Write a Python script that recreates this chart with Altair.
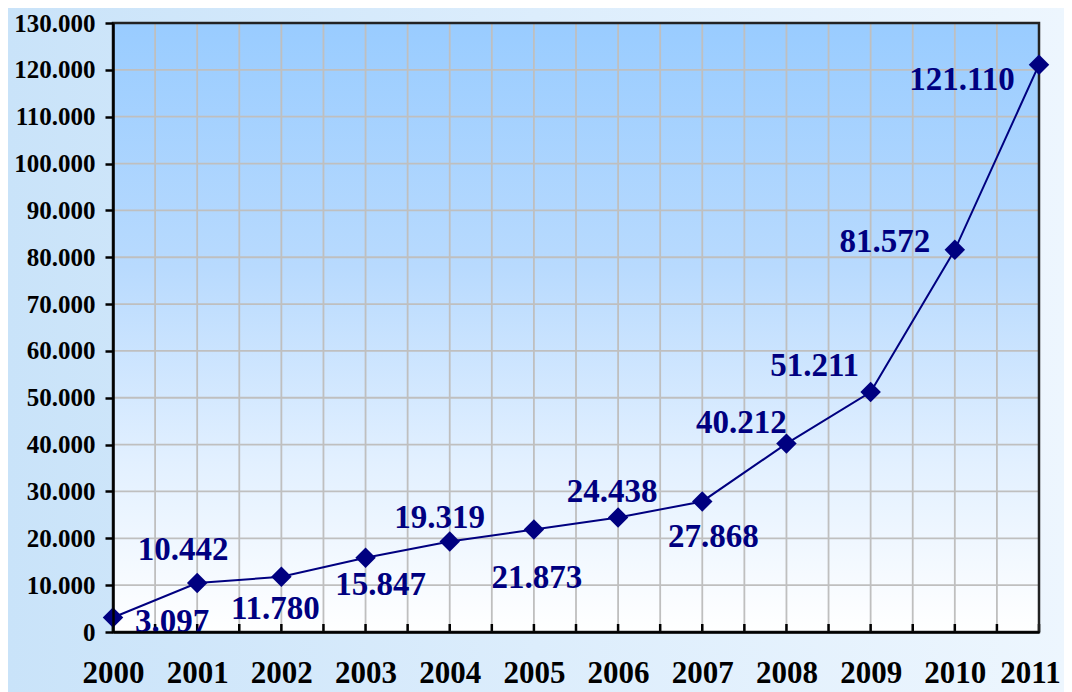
import altair as alt
import pandas as pd

years = [2000, 2001, 2002, 2003, 2004, 2005, 2006, 2007, 2008, 2009, 2010, 2011]
values = [3097, 10442, 11780, 15847, 19319, 21873, 24438, 27868, 40212, 51211, 81572, 121110]
labels = ["3.097", "10.442", "11.780", "15.847", "19.319", "21.873", "24.438",
          "27.868", "40.212", "51.211", "81.572", "121.110"]

x_ticks = [2000 + i * 0.5 for i in range(23)]
y_ticks = [i * 10000 for i in range(14)]

# label offsets (style only), relative to each point
offsets = {
    2000: (59, 5), 2001: (-14, -33), 2002: (-6, 32), 2003: (15, 27),
    2004: (-10, -23), 2005: (3, 48), 2006: (-6, -26), 2007: (11, 36),
    2008: (-45, -21), 2009: (-56, -26), 2010: (-70, -8), 2011: (-77, 15),
}

df = pd.DataFrame({"year": years, "value": values, "label": labels})

W, H = 926, 609
PAD = {"left": 105, "top": 15, "right": 25, "bottom": 60}
NAVY = "#000080"
FONT = "Liberation Serif"

xscale = alt.Scale(domain=[2000, 2011], nice=False, zero=False)
yscale = alt.Scale(domain=[0, 130000], nice=False)

xaxis = alt.Axis(values=x_ticks, title=None, grid=False, ticks=False, domain=True,
                 domainColor="#000000", domainWidth=2.5, labelFont=FONT, labelFontSize=31,
                 labelFontWeight="bold", labelColor="#000000", labelPadding=26,
                 labelFlush=False, labelOverlap=False, zindex=1,
                 labelOffset={"condition": {"test": "datum.value == 2011", "value": -9}, "value": 0},
                 labelExpr="datum.value % 1 == 0 ? datum.value : ''")
yaxis = alt.Axis(values=y_ticks, title=None, grid=False, ticks=True, tickSize=8, tickWidth=2.5,
                 tickColor="#000000", domain=True, domainColor="#000000", domainWidth=2.5,
                 labelFont=FONT, labelFontSize=25, labelFontWeight="bold",
                 labelColor="#000000", labelPadding=10, labelFlush=False,
                 labelOverlap=False, zindex=1,
                 labelExpr="replace(format(datum.value, ',.0f'), /,/g, '.')")

area_df = pd.DataFrame({"x0": [years[0]], "x1": [years[-1]], "y0": [y_ticks[0]], "y1": [y_ticks[-1]]})

# invisible layer that carries the axes
axes = alt.Chart(area_df).mark_rect(opacity=0).encode(
    x=alt.X("x0:Q", scale=xscale, axis=xaxis), x2="x1:Q",
    y=alt.Y("y0:Q", scale=yscale, axis=yaxis), y2="y1:Q")

# page background gradient
page_bg = alt.Chart(pd.DataFrame({"a": [0]})).mark_rect(
    color=alt.Gradient(gradient="linear",
                       stops=[alt.GradientStop(color="#C9E3F9", offset=0),
                              alt.GradientStop(color="#DCEDFC", offset=0.5),
                              alt.GradientStop(color="#EDF6FE", offset=1)],
                       x1=0, x2=1, y1=0, y2=0)
).encode(x=alt.value(-PAD["left"]), x2=alt.value(W + PAD["right"]),
         y=alt.value(-PAD["top"]), y2=alt.value(H + PAD["bottom"]))

# plot area gradient
plot_bg = alt.Chart(area_df).mark_rect(
    color=alt.Gradient(gradient="linear",
                       stops=[alt.GradientStop(color="#99CCFF", offset=0),
                              alt.GradientStop(color="#B8DAFE", offset=0.4),
                              alt.GradientStop(color="#E2F0FF", offset=0.72),
                              alt.GradientStop(color="#FFFFFF", offset=1)],
                       x1=0, x2=0, y1=0, y2=1)
).encode(x=alt.X("x0:Q", scale=xscale), x2="x1:Q",
         y=alt.Y("y0:Q", scale=yscale), y2="y1:Q")

# grid lines
vgrid = alt.Chart(pd.DataFrame({"gx": x_ticks})).mark_rule(color="#BFBFBF", strokeWidth=1.8).encode(
    x=alt.X("gx:Q", scale=xscale))
hgrid = alt.Chart(pd.DataFrame({"gy": y_ticks})).mark_rule(color="#BFBFBF", strokeWidth=1.8).encode(
    y=alt.Y("gy:Q", scale=yscale))

# inward ticks on the bottom axis
xticks_in = alt.Chart(pd.DataFrame({"gx": x_ticks})).mark_rule(color="#000000", strokeWidth=2.5).encode(
    x=alt.X("gx:Q", scale=xscale), y=alt.value(H), y2=alt.value(H - 8))

frame = alt.Chart(area_df).mark_rect(filled=False, stroke="#222222", strokeWidth=2.5).encode(
    x=alt.X("x0:Q", scale=xscale), x2="x1:Q",
    y=alt.Y("y0:Q", scale=yscale), y2="y1:Q")

base = alt.Chart(df)
line = base.mark_line(color=NAVY, strokeWidth=2).encode(x=alt.X("year:Q", scale=xscale),
                                                         y=alt.Y("value:Q", scale=yscale))
pts = base.mark_point(shape="diamond", filled=True, color=NAVY, size=420, opacity=1).encode(
    x=alt.X("year:Q", scale=xscale), y=alt.Y("value:Q", scale=yscale))

text_layers = []
for yr in years:
    dx, dy = offsets[yr]
    text_layers.append(
        base.transform_filter(alt.datum.year == yr).mark_text(
            font=FONT, fontSize=33, fontWeight="bold", color=NAVY,
            align="center", baseline="middle", dx=dx, dy=dy
        ).encode(x=alt.X("year:Q", scale=xscale), y=alt.Y("value:Q", scale=yscale),
                 text="label:N")
    )

chart = alt.layer(axes, page_bg, plot_bg, vgrid, hgrid, xticks_in, frame, line, pts,
                  *text_layers).properties(
    width=W, height=H, padding=PAD, autosize=alt.AutoSizeParams(type="none"),
    background="#DCEDFC"
).configure_view(stroke=None)

chart.save("out.html", embed_options={"renderer": "svg", "actions": False})
